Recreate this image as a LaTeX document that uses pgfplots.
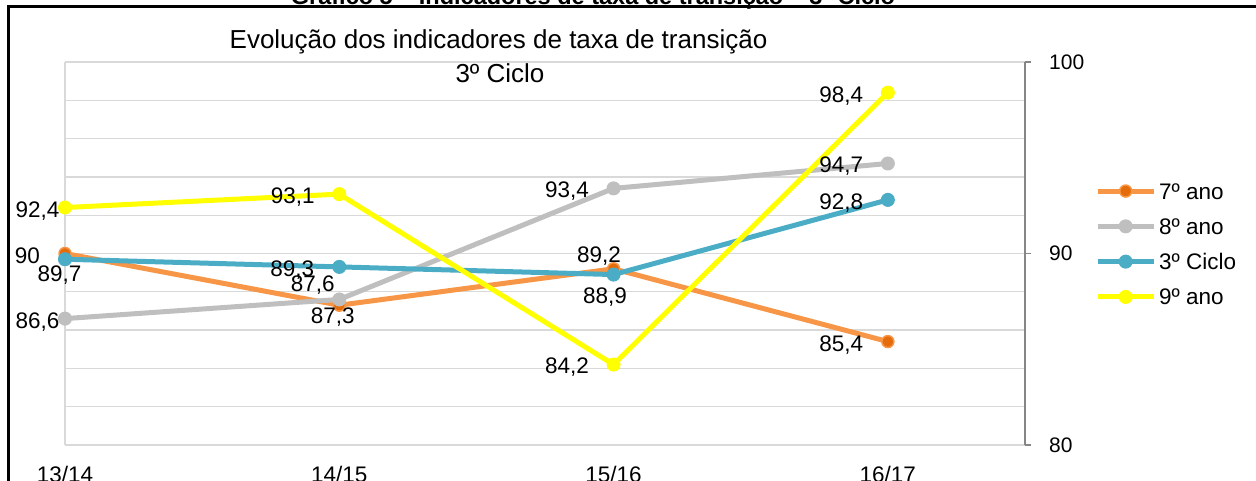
\documentclass[border=0pt]{standalone}
\usepackage{fontspec}
\setmainfont{Liberation Sans}
\usepackage{pgfplots}
\usepackage{pgfplotstable}
\pgfplotsset{compat=1.18}
\definecolor{orLine}{RGB}{247,150,70}
\definecolor{orMark}{RGB}{228,108,10}
\definecolor{grLine}{RGB}{191,191,191}
\definecolor{blLine}{RGB}{75,172,198}
\definecolor{yeLine}{RGB}{255,255,0}
\definecolor{gridc}{RGB}{217,217,217}
\definecolor{axc}{RGB}{134,134,134}

\pgfplotstableread{
x y lab dx dy
0 90 90 -37.5 -10
1 87.3 87,3 -6.5 -18
2 89.2 89,2 -14.5 6
3 85.4 85,4 -46.5 -9.5
}\tsete
\pgfplotstableread{
x y lab dx dy
0 86.6 86,6 -27.5 -9.5
1 87.6 87,6 -26.5 7.5
2 93.4 93,4 -46.5 -9.5
3 94.7 94,7 -46.5 -9.5
}\toito
\pgfplotstableread{
x y lab dx dy
0 89.7 89,7 -5.5 -22.3
1 89.3 89,3 -47 -9.6
2 88.9 88,9 -8.5 -29
3 92.8 92,8 -46.5 -9.5
}\tciclo
\pgfplotstableread{
x y lab dx dy
0 92.4 92,4 -27.5 -9.5
1 93.1 93,1 -46.5 -9.5
2 84.2 84,2 -46.5 -8.5
3 98.4 98,4 -46.5 -9.5
}\tnove

\pgfplotsset{lbl/.style={
  point meta=explicit symbolic,
  nodes near coords={\pgfplotspointmeta},
  visualization depends on={\thisrow{dx}\as\dx},
  visualization depends on={\thisrow{dy}\as\dy},
  every node near coord/.append style={anchor=base, xshift=\dx pt, yshift=\dy pt, inner sep=0pt, font=\fontsize{22.5}{27}\selectfont, text=black},
}}

\begin{document}
\begin{tikzpicture}
\useasboundingbox (0,0) rectangle (1256pt,481pt);
\clip (0,0) rectangle (1256pt,481pt);
\begin{axis}[
  at={(65pt,36pt)}, anchor=south west,
  scale only axis, width=960pt, height=383pt,
  xmin=0, xmax=3.5, ymin=80, ymax=100,
  clip=false,
  axis x line*=bottom,
  axis y line*=right,
  x axis line style={draw=none},
  y axis line style={draw=axc, line width=1.3pt},
  xtick={0,1,2,3},
  xticklabels={13/14,14/15,15/16,16/17},
  xtick style={draw=none},
  ytick={80,90,100},
  yticklabels={80,90,100},
  minor ytick={82,84,86,88,92,94,96,98},
  ytick style={draw=axc, line width=1.3pt},
  tick align=outside,
  major tick length=6pt,
  minor tick length=0pt,
  ymajorgrids, yminorgrids,
  major grid style={draw=gridc, line width=1.3pt},
  minor grid style={draw=gridc, line width=1.3pt},
  /pgf/number format/assume math mode=true,
  xticklabel style={anchor=base, yshift=-32pt, inner sep=0pt, font=\fontsize{22.5}{27}\selectfont},
  yticklabel style={anchor=west, xshift=18pt, inner sep=0pt, font=\fontsize{21}{25}\selectfont},
  legend cell align=left,
  legend style={at={(1.0729,0.5248)}, anchor=west, draw=none, fill=none, inner sep=0pt,
    row sep=19.3pt, column sep=3pt, font=\fontsize{22.5}{27}\selectfont,
    nodes={inner sep=0pt, text height=16pt, text depth=0pt, anchor=west}},
  legend image code/.code={\draw[mark repeat=2,mark phase=2,#1] plot coordinates {(0pt,0pt) (28pt,0pt) (56pt,0pt)};},
]
\draw[gridc, line width=1.3pt] (axis cs:0,80) -- (axis cs:0,100);
\addplot[orLine, line width=5pt, line join=round, mark=*, mark size=6pt,
  mark options={fill=orMark, draw=orLine, line width=1.5pt}, lbl]
  table[x=x, y=y, meta=lab] {\tsete};
\addlegendentry{7º ano}
\addplot[grLine, line width=5pt, line join=round, mark=*, mark size=6.5pt,
  mark options={fill=grLine, draw=grLine, line width=1pt}, lbl]
  table[x=x, y=y, meta=lab] {\toito};
\addlegendentry{8º ano}
\addplot[blLine, line width=5pt, line join=round, mark=*, mark size=6.5pt,
  mark options={fill=blLine, draw=blLine, line width=1pt}, lbl]
  table[x=x, y=y, meta=lab] {\tciclo};
\addlegendentry{3º Ciclo}
\addplot[yeLine, line width=5pt, line join=round, mark=*, mark size=6.5pt,
  mark options={fill=yeLine, draw=yeLine, line width=1pt}, lbl]
  table[x=x, y=y, meta=lab] {\tnove};
\addlegendentry{9º ano}
\end{axis}
\node[anchor=base, inner sep=0pt, font=\fontsize{26}{31}\selectfont] at (498.5pt,432pt) {Evolução dos indicadores de taxa de transição};
\node[anchor=base, inner sep=0pt, font=\fontsize{26}{31}\selectfont] at (500pt,398pt) {3º Ciclo};
\node[anchor=base, inner sep=0pt, font=\bfseries\fontsize{23.5}{28}\selectfont] at (593pt,476.5pt) {Gráfico 5 – Indicadores de taxa de transição – 3º Ciclo};
\draw[line width=3pt] (8pt,-10pt) -- (8pt,474pt) -- (1270pt,474pt);
\end{tikzpicture}
\end{document}
